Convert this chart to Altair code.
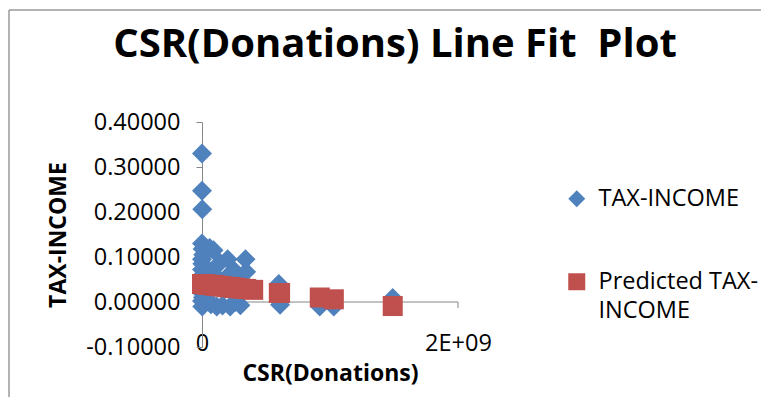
import altair as alt
import pandas as pd

csr_donations = [0, 0, 2e6, 0, 5e6, 1e7, 0, 3e6, 0, 6e6, 0, 4e6, 0, 8e6, 0, 2e6,
                 6e7, 9e7, 1.4e8, 5e7, 1e8, 3e7, 7e7, 1.15e8, 1.6e8,
                 2e8, 2.1e8, 2.5e8, 2.7e8, 3.4e8, 3.45e8, 2.2e8, 3e8, 2.6e8,
                 4e8, 6e8, 6.1e8, 9.2e8, 1.03e9, 1.49e9, 1.8e8, 1.2e8]
tax_income = [0.330, 0.247, 0.206, 0.130, 0.118, 0.105, 0.095, 0.085, 0.072, 0.060,
              0.050, 0.035, 0.020, 0.010, 0.002, -0.010,
              0.120, 0.115, 0.087, 0.070, 0.060, 0.010, -0.005, -0.010, -0.008,
              0.095, 0.060, 0.070, 0.050, 0.095, 0.067, -0.010, -0.007, 0.000,
              0.030, 0.040, -0.006, -0.010, -0.010, 0.009, 0.030, 0.040]
predicted_tax_income = [0.040, 0.040, 0.040, 0.040, 0.040, 0.040, 0.040, 0.040, 0.040, 0.040,
                        0.040, 0.040, 0.040, 0.040, 0.040, 0.040,
                        0.038, 0.037, 0.035, 0.038, 0.037, 0.039, 0.038, 0.036, 0.035,
                        0.033, 0.033, 0.032, 0.031, 0.029, 0.029, 0.033, 0.030, 0.031,
                        0.027, 0.020, 0.020, 0.010, 0.006, -0.009, 0.034, 0.036]

series_names = ["TAX-INCOME", "Predicted TAX-INCOME"]
y_ticks = [-0.1, 0.0, 0.1, 0.2, 0.3, 0.4]
x_ticks = [0, 2e9]
chart_title = "CSR(Donations) Line Fit \u00a0Plot"

rows = []
for x, y in zip(csr_donations, tax_income):
    rows.append({"csr": x, "value": y, "series": series_names[0]})
for x, y in zip(csr_donations, predicted_tax_income):
    rows.append({"csr": x, "value": y, "series": series_names[1]})
df = pd.DataFrame(rows)

FONT = "Open Sans"
GRAY = "#868686"

xscale = alt.Scale(domain=[0, 2e9], nice=False, zero=False)
yscale = alt.Scale(domain=[-0.1, 0.4], nice=False, zero=False)

points = alt.Chart(df).mark_point(filled=True, size=400, opacity=1).encode(
    x=alt.X("csr:Q", scale=xscale, title="CSR(Donations)",
            axis=alt.Axis(values=x_ticks, domain=False, ticks=False, grid=False,
                          labelExpr="datum.value == 0 ? '0' : '2E+09'",
                          labelFont=FONT, labelFontSize=23.5, labelColor="black",
                          labelPadding=-16, labelFlush=False,
                          titleFont=FONT, titleFontSize=23, titleFontWeight="bold",
                          titleColor="black", titlePadding=8)),
    y=alt.Y("value:Q", scale=yscale, title="TAX-INCOME",
            axis=alt.Axis(values=y_ticks, grid=False,
                          labelExpr="replace(format(datum.value, '.5f'), '\u2212', '-')",
                          domainColor=GRAY, tickColor=GRAY, tickSize=6,
                          labelFont=FONT, labelFontSize=23.5, labelColor="black",
                          labelPadding=16,
                          titleFont=FONT, titleFontSize=23, titleFontWeight="bold",
                          titleColor="black", titlePadding=15)),
    color=alt.Color("series:N", scale=alt.Scale(domain=series_names, range=["#4F81BD", "#C0504D"]),
                    legend=alt.Legend(title=None, orient="none", legendX=363, legendY=65,
                                      labelFont=FONT, labelFontSize=23.5, labelColor="black",
                                      labelLimit=400, labelOffset=10, symbolSize=289,
                                      rowPadding=58, padding=0,
                                      labelExpr="datum.label == 'Predicted TAX-INCOME' ? ['Predicted TAX-', 'INCOME'] : datum.label")),
    shape=alt.Shape("series:N", scale=alt.Scale(domain=series_names, range=["diamond", "square"]),
                    legend=None),
    order=alt.Order("order:Q"),
).transform_calculate(order="datum.series == 'TAX-INCOME' ? 0 : 1")

zero_axis = alt.Chart(pd.DataFrame({"a": [0]})).mark_rule(color=GRAY, strokeWidth=1).encode(
    y=alt.datum(0), x=alt.datum(0), x2=alt.datum(2e9)
)
end_tick = alt.Chart(pd.DataFrame({"a": [0]})).mark_rule(color=GRAY, strokeWidth=1).encode(
    x=alt.datum(2e9), y=alt.datum(0), y2=alt.datum(-0.0133)
)

frame_left = alt.Chart(pd.DataFrame({"a": [0]})).mark_rule(color="#9a9a9a", strokeWidth=1.5).encode(
    x=alt.value(-193), y=alt.value(-112), y2=alt.value(275)
)
frame_top = alt.Chart(pd.DataFrame({"a": [0]})).mark_rule(color="#9a9a9a", strokeWidth=1.5).encode(
    x=alt.value(-193), x2=alt.value(559), y=alt.value(-112)
)

title_text = alt.Chart(pd.DataFrame({"t": [chart_title]})).mark_text(
    font=FONT, fontSize=40, fontWeight="bold", color="black", align="center", baseline="alphabetic"
).encode(text="t:N", x=alt.value(193), y=alt.value(-65))

chart = alt.layer(frame_left, frame_top, zero_axis, end_tick, points, title_text).properties(
    width=256, height=225,
    padding={"left": 194, "top": 114, "right": 303, "bottom": 50},
    autosize=alt.AutoSizeParams(type="none"),
).configure(
    style={"guide-label": {"lineHeight": 29}},
    view=alt.ViewConfig(stroke="transparent"),
)

chart.save("out.html", embed_options={"renderer": "svg", "actions": False})
